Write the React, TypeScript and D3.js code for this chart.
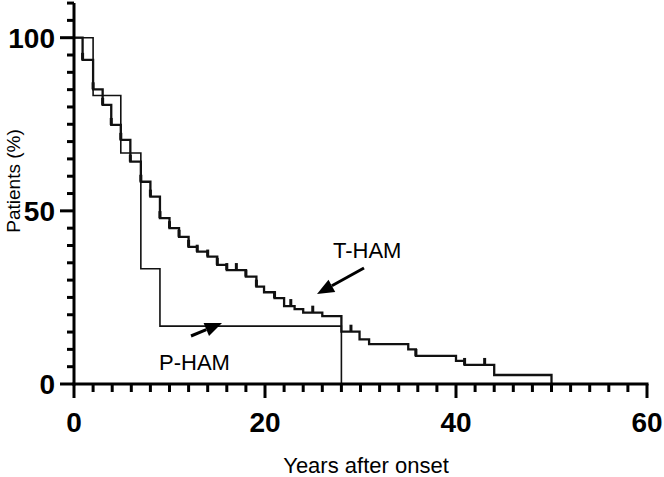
import React from "react";
import * as d3 from "d3";

// Kaplan–Meier style curves: years after onset vs. percentage of patients
const tHamTimes = [0.9, 2.0, 3.0, 3.9, 4.9, 5.9, 7.0, 8.0, 9.0, 10.0, 11.0, 12.0, 12.9, 14.0, 15.0, 16.0, 18.0, 19.1, 19.9, 21.0, 22.0, 23.1, 24.0, 26.0, 28.0, 29.9, 30.9, 35.0, 35.8, 40.0, 40.9, 44.0, 50.0];
const tHamSurvival = [93.6, 85.1, 80.6, 74.8, 70.5, 64.2, 58.4, 54.1, 47.9, 45.0, 42.5, 39.6, 38.2, 36.8, 34.4, 32.9, 31.0, 28.1, 26.5, 24.8, 22.5, 21.6, 20.6, 19.6, 15.1, 12.9, 11.5, 10.0, 8.1, 6.7, 5.5, 2.6, 0];
const tHamCensored = [0.9, 2.0, 3.0, 3.9, 4.9, 5.9, 7.0, 8.0, 9.0, 10.0, 11.0, 12.0, 12.9, 14.0, 15.0, 16.0, 17.0, 18.0, 19.1, 21.0, 22.7, 25.0, 29.0, 35.8, 40.9, 43.0];

const pHamTimes = [2.0, 4.9, 7.0, 9.0, 28.0];
const pHamSurvival = [83.3, 66.7, 33.3, 16.7, 0];

const xTicks = d3.range(0, 61, 2);
const xLabels = [0, 20, 40, 60];
const yTicks = d3.range(0, 111, 5);
const yLabels = [0, 50, 100];

const W = 664;
const H = 477;
const FONT = "'Liberation Sans', Arial, sans-serif";

const x = d3.scaleLinear().domain([0, 60]).range([74, 647]);
const y = d3.scaleLinear().domain([0, 100]).range([384, 37.7]);

const stepLine = d3
  .line<[number, number]>()
  .x((d) => x(d[0]))
  .y((d) => y(d[1]))
  .curve(d3.curveStepAfter);

function toPoints(times: number[], surv: number[]): [number, number][] {
  return [[0, 100] as [number, number], ...times.map((t, i) => [t, surv[i]] as [number, number])];
}

function survivalAt(times: number[], surv: number[], t: number): number {
  let s = 100;
  times.forEach((tt, i) => {
    if (tt <= t + 1e-9) s = surv[i];
  });
  return s;
}

function Arrow({ x1, y1, x2, y2 }: { x1: number; y1: number; x2: number; y2: number }) {
  const ang = Math.atan2(y2 - y1, x2 - x1);
  const len = 17;
  const half = 7;
  const bx = x2 - len * Math.cos(ang);
  const by = y2 - len * Math.sin(ang);
  const px = -Math.sin(ang) * half;
  const py = Math.cos(ang) * half;
  return (
    <g>
      <line x1={x1} y1={y1} x2={bx} y2={by} stroke="#000" strokeWidth={3} />
      <polygon points={`${x2},${y2} ${bx + px},${by + py} ${bx - px},${by - py}`} fill="#000" />
    </g>
  );
}

export default function App() {
  const tPts = toPoints(tHamTimes, tHamSurvival);
  const pPts = toPoints(pHamTimes, pHamSurvival);
  return (
    <svg
      width={W}
      height={H}
      style={{ position: "absolute", left: 0, top: 0, background: "#fff" }}
      fontFamily={FONT}
    >
      <rect width={W} height={H} fill="#fff" />

      {/* survival curves */}
      <path d={stepLine(pPts) || ""} fill="none" stroke="#111" strokeWidth={1.6} />
      <path d={stepLine(tPts) || ""} fill="none" stroke="#111" strokeWidth={2.3} />
      {tHamCensored.map((t, i) => {
        const s = survivalAt(tHamTimes, tHamSurvival, t);
        return <rect key={i} x={x(t) - 1.5} y={y(s) - 7} width={3} height={7} fill="#111" />;
      })}

      {/* x axis */}
      <line x1={x(0) - 1.5} x2={x(60) + 1.5} y1={y(0)} y2={y(0)} stroke="#000" strokeWidth={3} />
      {xTicks.map((t) => (
        <line
          key={t}
          x1={x(t)}
          x2={x(t)}
          y1={y(0)}
          y2={y(0) + (t % 20 === 0 ? 14 : 8)}
          stroke="#000"
          strokeWidth={3}
        />
      ))}
      {xLabels.map((t) => (
        <text key={t} x={x(t)} y={432} textAnchor="middle" fontSize={28} fontWeight="bold">
          {t}
        </text>
      ))}
      <text x={366} y={473} textAnchor="middle" fontSize={22}>
        Years after onset
      </text>

      {/* y axis */}
      <line x1={x(0)} x2={x(0)} y1={y(110)} y2={y(0) + 1.5} stroke="#000" strokeWidth={3} />
      {yTicks.map((v) => (
        <line
          key={v}
          x1={x(0) - (v % 50 === 0 ? 14 : 7)}
          x2={x(0)}
          y1={y(v)}
          y2={y(v)}
          stroke="#000"
          strokeWidth={3}
        />
      ))}
      {yLabels.map((v) => (
        <text key={v} x={55} y={y(v) + 10} textAnchor="end" fontSize={28} fontWeight="bold">
          {v}
        </text>
      ))}
      <text transform={`translate(20,181) rotate(-90)`} textAnchor="middle" fontSize={19}>
        Patients (%)
      </text>

      {/* annotations */}
      <text x={333} y={258} fontSize={22}>
        T-HAM
      </text>
      <Arrow x1={364} y1={268} x2={317} y2={294} />
      <text x={159} y={370} fontSize={22}>
        P-HAM
      </text>
      <Arrow x1={191} y1={336} x2={222} y2={323} />
    </svg>
  );
}
